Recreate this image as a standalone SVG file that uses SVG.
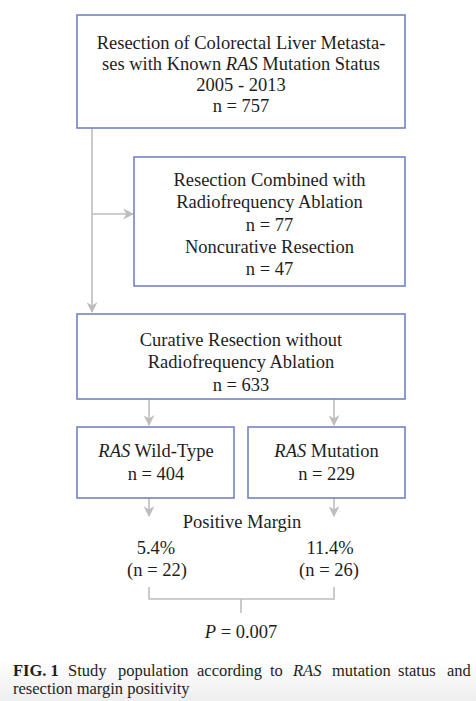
<svg xmlns="http://www.w3.org/2000/svg" width="476" height="701" viewBox="0 0 476 701">
<defs>
<style>
.box{fill:#fff;stroke:#7283c6;stroke-width:1.6}
.t{font-family:"Liberation Serif","Times New Roman",serif;font-size:18.5px;fill:#1e1e1e;text-anchor:middle}
.c{font-family:"Liberation Serif","Times New Roman",serif;font-size:16.5px;fill:#1e1e1e}
.ln{fill:none;stroke:#bdbdbd;stroke-width:1.6}
</style>
<marker id="ah" viewBox="0 0 10 10" refX="9" refY="5" markerWidth="11" markerHeight="11" markerUnits="userSpaceOnUse" orient="auto">
<path d="M0,0 L10,5 L0,10 L3,5 Z" fill="#bdbdbd"/>
</marker>
<linearGradient id="fade" x1="0" y1="0" x2="0" y2="1">
<stop offset="0" stop-color="#ffffff"/>
<stop offset="1" stop-color="#eeeeee"/>
</linearGradient>
</defs>
<rect width="476" height="701" fill="#fff"/>
<rect x="0" y="660" width="476" height="41" fill="url(#fade)"/>
<g id="connectors">
<path class="ln" d="M92,128 V312" marker-end="url(#ah)"/>
<path class="ln" d="M92,214 H133" marker-end="url(#ah)"/>
<path class="ln" d="M149,399 V425" marker-end="url(#ah)"/>
<path class="ln" d="M334,399 V425" marker-end="url(#ah)"/>
<path class="ln" d="M149,498 V516" marker-end="url(#ah)"/>
<path class="ln" d="M334,498 V516" marker-end="url(#ah)"/>
<path class="ln" d="M149,587 V599 H334 V587 M241,599 V613"/>
</g>
<g id="node1">
<rect class="box" x="77" y="15" width="328" height="113"/>
<text class="t" x="241" y="49">Resection of Colorectal Liver Metasta-</text>
<text class="t" x="241" y="70">ses with Known <tspan font-style="italic">RAS</tspan> Mutation Status</text>
<text class="t" x="241" y="91">2005 - 2013</text>
<text class="t" x="241" y="112">n = 757</text>
</g>
<g id="node2">
<rect class="box" x="134" y="157" width="271" height="129"/>
<text class="t" x="269.5" y="186">Resection Combined with</text>
<text class="t" x="269.5" y="208">Radiofrequency Ablation</text>
<text class="t" x="269.5" y="231">n = 77</text>
<text class="t" x="269.5" y="253">Noncurative Resection</text>
<text class="t" x="269.5" y="275">n = 47</text>
</g>
<g id="node3">
<rect class="box" x="77" y="314" width="328" height="85"/>
<text class="t" x="241" y="346">Curative Resection without</text>
<text class="t" x="241" y="368">Radiofrequency Ablation</text>
<text class="t" x="241" y="391">n = 633</text>
</g>
<g id="node4">
<rect class="box" x="77" y="427" width="157" height="71"/>
<text class="t" x="156" y="457"><tspan font-style="italic">RAS</tspan> Wild-Type</text>
<text class="t" x="156" y="480">n = 404</text>
</g>
<g id="node5">
<rect class="box" x="248" y="427" width="157" height="71"/>
<text class="t" x="326.5" y="457"><tspan font-style="italic">RAS</tspan> Mutation</text>
<text class="t" x="326.5" y="480">n = 229</text>
</g>
<g id="results">
<text class="t" x="242" y="528">Positive Margin</text>
<text class="t" x="156" y="554">5.4%</text>
<text class="t" x="157" y="576">(n = 22)</text>
<text class="t" x="330" y="554">11.4%</text>
<text class="t" x="329" y="576">(n = 26)</text>
<text class="t" x="241" y="638"><tspan font-style="italic">P</tspan> = 0.007</text>
</g>
<g id="caption">
<text class="c" x="13" y="676" font-weight="bold">FIG. 1</text>
<text class="c" x="68" y="676">Study</text>
<text class="c" x="118" y="676">population</text>
<text class="c" x="197" y="676">according</text>
<text class="c" x="270" y="676">to</text>
<text class="c" x="293" y="676" font-style="italic">RAS</text>
<text class="c" x="332" y="676">mutation</text>
<text class="c" x="398" y="676">status</text>
<text class="c" x="447" y="676">and</text>
<text class="c" x="13" y="694">resection margin positivity</text>
</g>
</svg>
